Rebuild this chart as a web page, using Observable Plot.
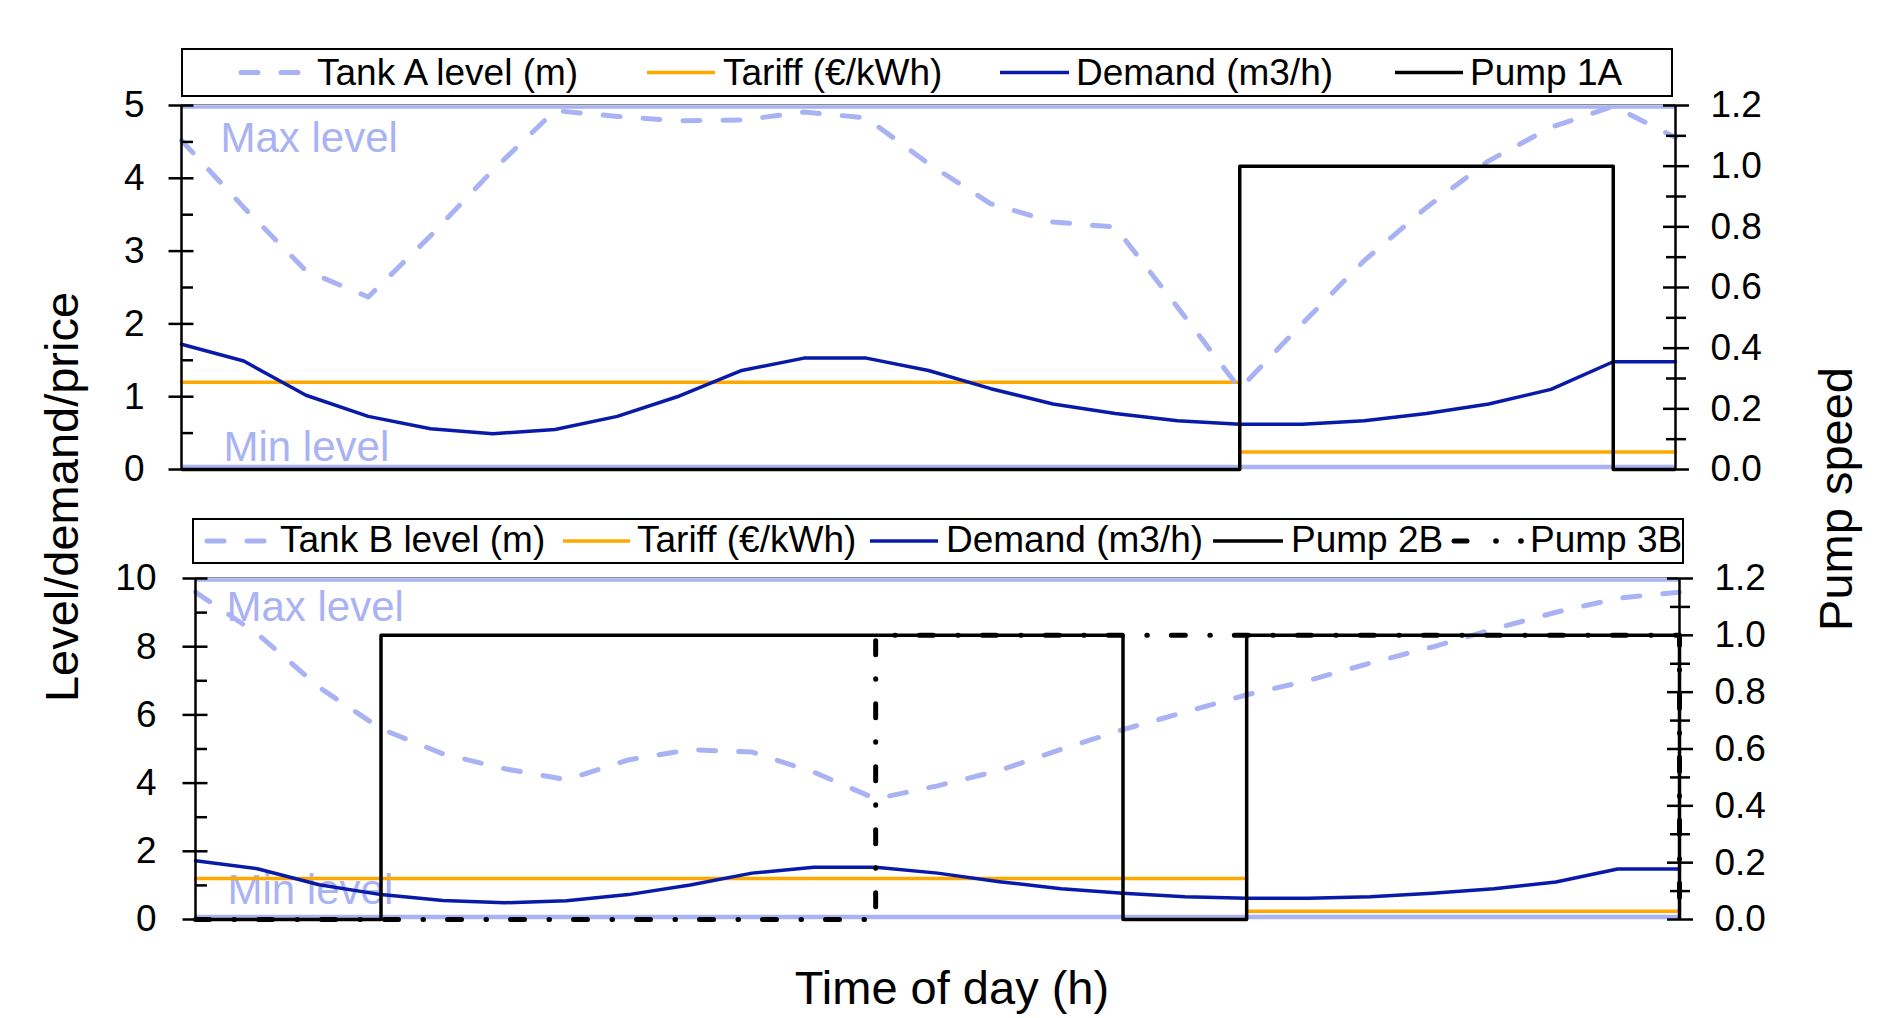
<!DOCTYPE html>
<html><head><meta charset="utf-8">
<script src="https://cdn.jsdelivr.net/npm/d3@7"></script>
<script src="https://cdn.jsdelivr.net/npm/@observablehq/plot@0.6"></script>
<style>
body{margin:0;background:#fff;}
#fig{position:relative;width:1890px;height:1018px;overflow:hidden;background:#fff;font-family:"Liberation Sans",Arial,Helvetica,sans-serif;}
#fig > svg{position:absolute;left:0;}
</style></head><body><div id="fig"></div>
<script>
// ---------- data ----------
const hours = [0,1,2,3,4,5,6,7,8,9,10,11,12,13,14,15,16,17,18,19,20,21,22,23,24];
const demand = [1.72,1.49,1.02,0.73,0.56,0.49,0.55,0.73,1.01,1.36,1.53,1.53,1.36,1.11,0.90,0.77,0.67,0.62,0.62,0.67,0.77,0.90,1.10,1.48,1.48];
const tankA = [4.52,3.60,2.73,2.37,3.21,4.11,4.93,4.85,4.79,4.80,4.91,4.83,4.20,3.65,3.40,3.33,2.23,1.11,2.00,2.87,3.60,4.24,4.70,4.99,4.56];
const tankB = [9.60,8.38,6.81,5.59,4.86,4.42,4.10,4.68,4.98,4.91,4.32,3.54,3.92,4.37,4.99,5.57,6.08,6.59,7.01,7.52,7.99,8.52,9.01,9.42,9.60];
const tariffHours = [0,17,17,24];
const tariffValues = [1.2,1.2,0.24,0.24];
const tariffPeriod = ["peak","peak","off-peak","off-peak"];
const pump1A = [0,0,0,0,0,0,0,0,0,0,0,0,0,0,0,0,0,1,1,1,1,1,1,0,0];
const pump2B = [0,0,0,1,1,1,1,1,1,1,1,1,1,1,1,0,0,1,1,1,1,1,1,1,0];
const pump3B = [0,0,0,0,0,0,0,0,0,0,0,1,1,1,1,1,1,1,1,1,1,1,1,1,0];
const ticksA = [0,1,2,3,4,5];
const minorA = [0.5,1.5,2.5,3.5,4.5];
const ticksB = [0,2,4,6,8,10];
const minorB = [1,3,5,7,9];
const speedTicks = [0,0.2,0.4,0.6,0.8,1.0,1.2];
const speedMinor = [0.1,0.3,0.5,0.7,0.9,1.1];
const legendA = ["Tank A level (m)","Tariff (€/kWh)","Demand (m3/h)","Pump 1A"];
const legendB = ["Tank B level (m)","Tariff (€/kWh)","Demand (m3/h)","Pump 2B","Pump 3B"];

// ---------- styles ----------
const LB = "#a9b3f4", ORANGE = "#ffa800", NAVY = "#0a1aa8";
const FONT = "'Liberation Sans', Arial, Helvetica, sans-serif";
const TANKDASH = "17,23";
const P3DASH = "14,24.5,0.5,24";
const fig = document.getElementById("fig");

function baseOpts(p, ydom) {
  return {
    width: 1890, height: p.h,
    marginTop: p.mt, marginBottom: p.mb, marginLeft: p.ml, marginRight: p.mr,
    style: {fontFamily: FONT, fontSize: "37px", background: "transparent", overflow: "visible", color: "black"},
    x: {domain: [0, 24], axis: null},
    y: {domain: ydom}
  };
}

function levelLayer(p) {
  return Plot.plot({
    ...baseOpts(p, [0, p.ymax]),
    marks: [
      Plot.ruleY([p.ymax], {stroke: "#8c8c8c", strokeWidth: 1.2, dy: -1}),
      Plot.ruleY([p.ymax], {stroke: LB, strokeWidth: 3.5, dy: 1.5}),
      Plot.ruleY([0], {stroke: LB, strokeWidth: 4.5, dy: -2.5}),
      Plot.text(["Max level"], {frameAnchor: "top-left", text: d => d, dx: p.maxdx, dy: p.maxdy, textAnchor: "start", lineAnchor: "middle", fontSize: 42, fill: LB}),
      Plot.text(["Min level"], {frameAnchor: "bottom-left", text: d => d, dx: p.mindx, dy: p.mindy, textAnchor: "start", lineAnchor: "middle", fontSize: 42, fill: LB}),
      Plot.line(tariffHours, {x: tariffHours, y: tariffValues, z: tariffPeriod, stroke: ORANGE, strokeWidth: 3.5}),
      Plot.line(hours, {x: hours, y: demand, stroke: NAVY, strokeWidth: 3.5}),
      Plot.line(hours, {x: hours, y: p.tank, stroke: LB, strokeWidth: 5, strokeDasharray: TANKDASH, strokeLinecap: "round"}),
      Plot.ruleX([0], {stroke: "black", strokeWidth: 2.5}),
      Plot.axisY({anchor: "left", ticks: p.major, tickSize: 25, dx: 12.5, fill: "none", stroke: "black", strokeWidth: 2.5, label: null}),
      Plot.axisY({anchor: "left", ticks: p.minor, tickSize: 12, dx: 12, fill: "none", stroke: "black", strokeWidth: 2.5, label: null}),
      Plot.axisY({anchor: "left", ticks: p.major, tickSize: 0, tickPadding: p.pad, stroke: "none", fill: "black", fontSize: 37, label: null, tickFormat: d3.format("d")})
    ]
  });
}

function pumpLayer(p) {
  const marks = [];
  p.pumps.forEach(pp => {
    marks.push(Plot.line(hours, {x: hours, y: pp.values, curve: "step-after", stroke: "black", strokeWidth: pp.dash ? 5 : 3.5, strokeDasharray: pp.dash || null, strokeLinecap: pp.dash ? "round" : "butt"}));
  });
  marks.push(
    Plot.ruleX([24], {stroke: "black", strokeWidth: 2.5}),
    Plot.axisY({anchor: "right", ticks: speedTicks, tickSize: 26, dx: -13, fill: "none", stroke: "black", strokeWidth: 2.5, label: null}),
    Plot.axisY({anchor: "right", ticks: speedMinor, tickSize: 20, dx: -10, fill: "none", stroke: "black", strokeWidth: 2.5, label: null}),
    Plot.axisY({anchor: "right", ticks: speedTicks, tickSize: 0, tickPadding: 35, stroke: "none", fill: "black", fontSize: 37, label: null, tickFormat: d3.format(".1f")})
  );
  return Plot.plot({...baseOpts(p, [0, 1.2]), marks});
}

const panelA = {top: 60, h: 440, mt: 45, mb: 31, ml: 181, mr: 215, ymax: 5, major: ticksA, minor: minorA, tank: tankA, pad: 37,
  maxdx: 39, maxdy: 33, mindx: 42, mindy: -22, pumps: [{values: pump1A}]};
const panelB = {top: 540, h: 410, mt: 38, mb: 31, ml: 195, mr: 211, ymax: 10, major: ticksB, minor: minorB, tank: tankB, pad: 39,
  maxdx: 31, maxdy: 29, mindx: 32, mindy: -29, pumps: [{values: pump2B}, {values: pump3B, dash: P3DASH}]};

for (const p of [panelA, panelB]) {
  const a = levelLayer(p); a.style.top = p.top + "px"; fig.appendChild(a);
  const b = pumpLayer(p); b.style.top = p.top + "px"; fig.appendChild(b);
}

// ---------- legends and titles ----------
const svg = d3.select(fig).append("svg").attr("width", 1890).attr("height", 1018).style("top", "0px")
  .style("font-family", FONT).style("pointer-events", "none");

function drawLegend(box, cy, baseline, items) {
  svg.append("rect").attr("x", box[0]).attr("y", box[1]).attr("width", box[2]).attr("height", box[3])
    .attr("fill", "white").attr("stroke", "black").attr("stroke-width", 2);
  items.forEach(it => {
    const g = svg.append("g");
    if (it.kind === "p3") {
      g.append("line").attr("x1", it.x0 + 2).attr("x2", it.x0 + 15).attr("y1", cy).attr("y2", cy)
        .attr("stroke", "black").attr("stroke-width", 5).attr("stroke-linecap", "round");
      [it.x0 + 44, it.x0 + 69].forEach(cx => g.append("circle").attr("cx", cx).attr("cy", cy).attr("r", 2.8).attr("fill", "black"));
    } else {
      const l = g.append("line").attr("x1", it.x0).attr("x2", it.x1).attr("y1", cy).attr("y2", cy)
        .attr("stroke", it.color).attr("stroke-width", it.w);
      if (it.dash) l.attr("stroke-dasharray", it.dash).attr("stroke-linecap", "round");
    }
    g.append("text").attr("x", it.tx).attr("y", baseline).attr("font-size", 37).attr("fill", "black").text(it.text);
  });
}

drawLegend([182, 49, 1490, 47], 72.5, 85, [
  {x0: 241, x1: 302, color: LB, w: 5, dash: TANKDASH, tx: 317, text: legendA[0]},
  {x0: 647, x1: 715, color: ORANGE, w: 3.5, tx: 723, text: legendA[1]},
  {x0: 1000, x1: 1069, color: NAVY, w: 3.5, tx: 1076, text: legendA[2]},
  {x0: 1395, x1: 1463, color: "black", w: 3.5, tx: 1470, text: legendA[3]}
]);
drawLegend([193, 519, 1490, 44], 541, 552, [
  {x0: 207, x1: 268, color: LB, w: 5, dash: TANKDASH, tx: 280, text: legendB[0]},
  {x0: 563, x1: 630, color: ORANGE, w: 3.5, tx: 637, text: legendB[1]},
  {x0: 870, x1: 938, color: NAVY, w: 3.5, tx: 946, text: legendB[2]},
  {x0: 1213, x1: 1283, color: "black", w: 3.5, tx: 1291, text: legendB[3]},
  {kind: "p3", x0: 1452, tx: 1530, text: legendB[4]}
]);

svg.append("text").attr("transform", "translate(78,497) rotate(-90)").attr("text-anchor", "middle")
  .attr("font-size", 47).attr("fill", "black").text("Level/demand/price");
svg.append("text").attr("transform", "translate(1852,499) rotate(-90)").attr("text-anchor", "middle")
  .attr("font-size", 47).attr("fill", "black").text("Pump speed");
svg.append("text").attr("x", 952).attr("y", 1004).attr("text-anchor", "middle")
  .attr("font-size", 47).attr("fill", "black").text("Time of day (h)");
</script></body></html>
